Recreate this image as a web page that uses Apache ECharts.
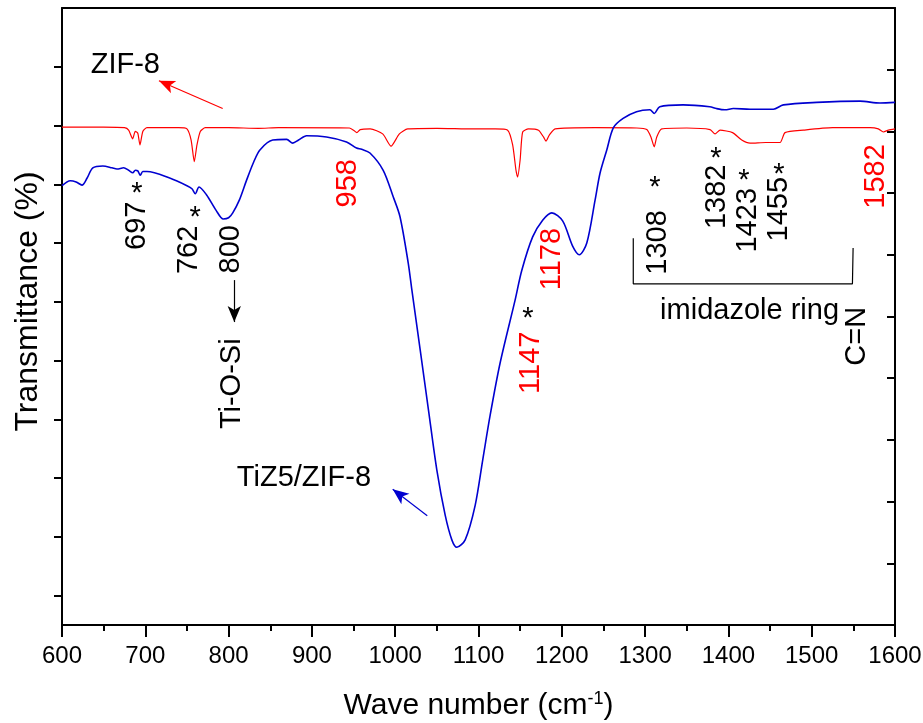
<!DOCTYPE html>
<html>
<head>
<meta charset="utf-8">
<script src="https://cdn.jsdelivr.net/npm/echarts@6/dist/echarts.min.js"></script>
<style>
  html, body { margin: 0; padding: 0; background: #fff; }
  #chart { width: 923px; height: 723px; }
</style>
</head>
<body>
<div id="chart"></div>
<script>
// ZIF-8 spectrum (red)
const zifWavenumber = [600, 650, 675, 680, 684.8, 688, 691, 693.6, 697, 702, 740, 750, 755, 758.8, 762, 766, 772, 800, 836, 860, 945, 950, 954, 958, 970, 985, 995, 1005, 1015, 1050, 1093, 1120, 1135, 1141, 1145, 1147, 1150, 1153, 1160, 1172, 1178, 1181, 1185, 1192, 1240, 1290, 1302, 1307, 1311, 1314, 1320, 1350, 1378, 1384, 1390, 1405, 1416, 1426, 1445, 1462, 1468, 1490, 1525, 1570, 1580, 1586, 1592, 1600]
const zifTransmittance = [80.7, 80.7, 80.6, 80.2, 78.8, 80.0, 79.7, 77.8, 80.0, 80.6, 80.6, 80.4, 78.6, 75.1, 77.8, 80.0, 80.6, 80.6, 80.5, 80.6, 80.55, 80.2, 79.8, 80.3, 80.4, 79.6, 77.6, 79.6, 80.4, 80.5, 80.4, 80.4, 80.2, 77.8, 73.7, 72.6, 75.4, 79.9, 80.4, 80.2, 79.1, 78.4, 79.4, 80.4, 80.6, 80.55, 80.3, 79.1, 77.5, 79.1, 80.4, 80.55, 80.3, 79.6, 80.2, 79.8, 78.6, 78.1, 78.2, 78.2, 79.8, 80.2, 80.6, 80.6, 80.4, 79.9, 80.2, 80.4]

// TiZ5/ZIF-8 spectrum (blue)
const tizWavenumber = [600, 610, 617, 624, 630, 637, 649, 660, 666, 674, 680, 685, 688, 691, 694, 697, 702, 730, 750, 756, 760, 764.5, 773.6, 785, 793.6, 800, 805, 813, 821.6, 830, 837.6, 853, 869.7, 877, 884, 893.6, 917.6, 941.6, 953.6, 959.7, 969.7, 985.6, 997.6, 1005.7, 1015.6, 1020, 1030, 1040, 1050, 1060, 1068, 1074, 1084, 1096, 1105, 1114, 1126, 1144, 1152, 1165, 1177, 1188, 1201, 1213, 1221, 1230, 1240, 1246, 1254, 1262, 1273.6, 1289.7, 1305.7, 1311, 1317.6, 1345.6, 1377.6, 1385.6, 1395.9, 1405.9, 1426, 1454, 1466, 1506, 1558, 1582, 1600]
const tizTransmittance = [71.2, 72.0, 71.8, 71.3, 72.4, 74.1, 74.4, 74.1, 73.9, 74.1, 73.7, 73.3, 73.7, 73.6, 72.9, 73.5, 73.5, 72.4, 71.2, 70.7, 69.9, 71.0, 69.7, 67.2, 65.8, 66.0, 66.8, 68.9, 72.1, 75.0, 77.0, 78.6, 78.7, 78.1, 78.6, 79.3, 79.1, 78.3, 77.3, 77.1, 76.5, 73.7, 69.4, 66.2, 58.7, 54.3, 44.6, 34.8, 25.1, 17.8, 13.8, 12.6, 13.8, 19.4, 26.7, 34.0, 42.5, 52.7, 57.5, 62.9, 65.6, 66.8, 65.5, 61.4, 60.0, 61.9, 68.9, 73.3, 77.0, 80.6, 82.1, 83.2, 83.5, 82.9, 84.0, 84.3, 84.0, 83.7, 83.5, 83.7, 83.6, 83.6, 84.3, 84.7, 84.9, 84.6, 84.7]

// annotations: [text, wavenumber, transmittance, red?, vertical?]
const peakNotes = [
  ['697', 690.6, 64.7, false, true],
  ['762', 752.5, 60.8, false, true],
  ['800', 802.9, 60.9, false, true],
  ['Ti-O-Si', 804, 39.1, false, true],
  ['958', 943.3, 71.6, true, true],
  ['1147', 1163, 42.5, true, true],
  ['1178', 1188.8, 59.3, true, true],
  ['1308', 1314.9, 62.0, false, true],
  ['1382', 1386.9, 69.4, false, true],
  ['1423', 1423.5, 65.6, false, true],
  ['1455', 1460.7, 67.4, false, true],
  ['1582', 1577, 72.7, true, true],
  ['C=N', 1554.9, 46.8, false, true],
  ['imidazole ring', 1425.4, 50.9, false, false],
  ['ZIF-8', 676, 90.8, false, false],
  ['TiZ5/ZIF-8', 890.5, 23.9, false, false]
]
const starMarks = [[690.0, 70.8], [759.7, 66.9], [1159.4, 50.6], [1311.9, 71.8], [1385.1, 76.5], [1418.7, 72.9], [1460.7, 73.9]]
const bracketPath = [[1285.8, 62.7], [1285.8, 55.3], [1548.9, 55.3], [1549.7, 61.1]]
// arrows: [from, to, colour]
const arrowNotes = [
  [[792.9, 83.7], [716.4, 88.2], '#ff0000'],
  [[806.8, 55.9], [806.8, 49.1], '#000000'],
  [[1038.5, 17.7], [997, 22.0], '#0000d0']
]

const font = 'Liberation Sans, Arial, Helvetica, sans-serif'
const zip = (xs, ys) => xs.map((x, i) => [x, ys[i]])

const chart = echarts.init(document.getElementById('chart'))

const noteData = peakNotes.map(([text, x, y, red, vertical]) => ({
  value: [x, y],
  label: { formatter: text, rotate: vertical ? 90 : 0, color: red ? '#ff0000' : '#000000' }
}))
const starData = starMarks.map(p => ({
  value: p,
  label: { formatter: '*', color: '#000000', offset: [0, 6] }
}))

chart.setOption({
  animation: false,
  grid: { left: 62, right: 28, top: 8, bottom: 98, outerBoundsMode: 'none', containLabel: false },
  xAxis: [
    {
      type: 'value',
      min: 600,
      max: 1600,
      interval: 100,
      position: 'bottom',
      name: '{a|Wave number (cm}{b|-1}{a|)}',
      nameLocation: 'middle',
      nameGap: 65,
      nameTextStyle: {
        rich: {
          a: { fontSize: 30, fontFamily: font, color: '#000' },
          b: { fontSize: 18, fontFamily: font, color: '#000', padding: [0, 0, 14, 0] }
        }
      },
      axisLine: { onZero: false, lineStyle: { color: '#000', width: 2 } },
      axisTick: { length: 12, lineStyle: { color: '#000', width: 2 } },
      minorTick: { show: true, splitNumber: 2, length: 6, lineStyle: { color: '#000', width: 2 } },
      axisLabel: { fontSize: 24, fontFamily: font, color: '#000', margin: 19, formatter: v => String(v) },
      splitLine: { show: false }
    },
    {
      type: 'value',
      min: 600,
      max: 1600,
      position: 'top',
      axisLine: { onZero: false, lineStyle: { color: '#000', width: 2 } },
      axisTick: { show: false },
      axisLabel: { show: false },
      splitLine: { show: false }
    }
  ],
  yAxis: [
    {
      type: 'value',
      min: 0,
      max: 10.5,
      position: 'left',
      name: 'Transmittance (%)',
      nameLocation: 'middle',
      nameGap: 18,
      nameTextStyle: { fontSize: 32, fontFamily: font, color: '#000', padding: [0, 0, 0, 30] },
      axisLine: { onZero: false, lineStyle: { color: '#000', width: 2 } },
      axisTick: {
        length: 8,
        customValues: [0.5, 1.5, 2.5, 3.5, 4.5, 5.5, 6.5, 7.5, 8.5, 9.5],
        lineStyle: { color: '#000', width: 2 }
      },
      axisLabel: { show: false },
      splitLine: { show: false }
    },
    {
      type: 'value',
      min: 0,
      max: 10,
      interval: 1,
      position: 'right',
      axisLine: { onZero: false, lineStyle: { color: '#000', width: 2 } },
      axisTick: { inside: true, length: 8, lineStyle: { color: '#000', width: 2 } },
      axisLabel: { show: false },
      splitLine: { show: false }
    },
    { type: 'value', min: 0, max: 100, show: false }
  ],
  series: [
    {
      name: 'ZIF-8',
      type: 'line',
      yAxisIndex: 2,
      data: zip(zifWavenumber, zifTransmittance),
      showSymbol: false,
      smooth: 0.2,
      lineStyle: { color: '#ff0000', width: 1.2 },
      silent: true
    },
    {
      name: 'TiZ5/ZIF-8',
      type: 'line',
      yAxisIndex: 2,
      data: zip(tizWavenumber, tizTransmittance),
      showSymbol: false,
      smooth: 0.3,
      lineStyle: { color: '#0000d0', width: 1.6 },
      silent: true
    },
    {
      name: 'bracket',
      type: 'line',
      yAxisIndex: 2,
      data: bracketPath,
      showSymbol: false,
      lineStyle: { color: '#000', width: 1.2 },
      silent: true,
      markLine: {
        silent: true,
        symbol: ['none', 'arrow'],
        symbolSize: [10, 16],
        label: { show: false },
        data: arrowNotes.map(([from, to, color]) => [
          { coord: from, lineStyle: { color: color, width: 1.2, type: 'solid' } },
          { coord: to }
        ])
      }
    },
    {
      name: 'notes',
      type: 'scatter',
      yAxisIndex: 2,
      symbolSize: 0,
      silent: true,
      label: {
        show: true,
        position: [0, 0],
        align: 'center',
        verticalAlign: 'middle',
        fontSize: 29,
        fontFamily: font,
        textBorderWidth: 0,
        opacity: 1
      },
      data: noteData.concat(starData)
    }
  ]
})
</script>
</body>
</html>
